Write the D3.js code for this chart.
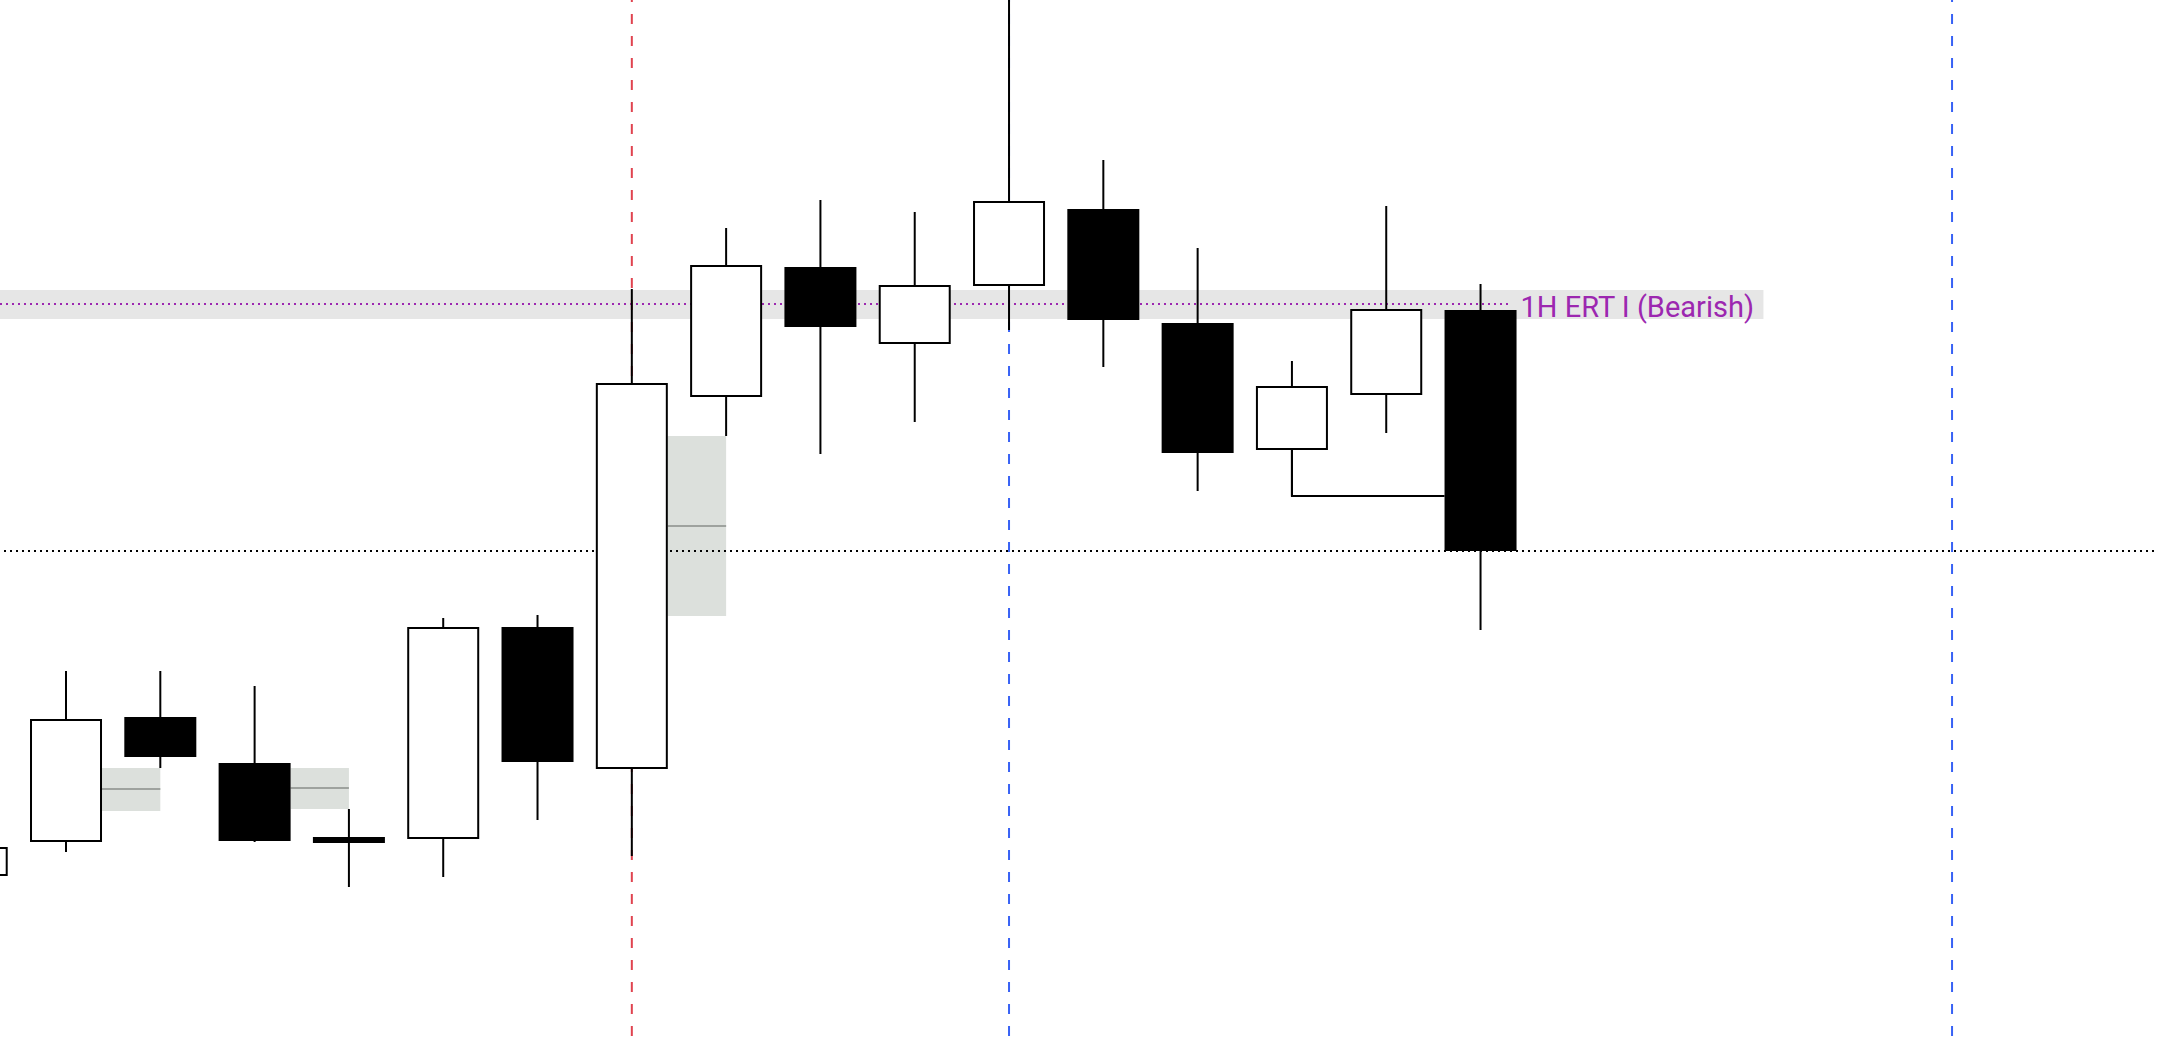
<!DOCTYPE html>
<html>
<head>
<meta charset="utf-8">
<script src="https://cdn.jsdelivr.net/npm/d3@7"></script>
<style>
  html, body { margin: 0; padding: 0; background: #ffffff; overflow: hidden; }
  svg { display: block; }
</style>
</head>
<body>
<script>
// ---- data (price units) ----
const candleIndex = [0, 1, 2, 3, 4, 5, 6, 7, 8, 9, 10, 11, 12, 13, 14, 15, 16];
const opens  = [42.5, 51, 82.25, 70.75, 52.25, 51.75, 104.75, 69.25, 162.25, 194.75, 175.5, 190, 209.25, 180.75, 149, 162.75, 184];
const highs  = [49.75, 93.75, 93.75, 90, 59.25, 107, 107.75, 189.25, 204.5, 211.5, 208.5, 270, 221.5, 199.5, 171.25, 210, 190.5];
const lows   = [42.5, 48.5, 69.5, 51, 39.75, 42.25, 56.5, 47.5, 152.5, 148, 156, 179, 169.75, 138.75, 137.5, 153.25, 104];
const closes = [49.75, 81.75, 72.25, 51.25, 50.75, 104.75, 71, 165.75, 195.25, 179.75, 190.25, 211.25, 181.5, 148.25, 165, 184.25, 123.75];

// gap boxes: start candle (right edge of body), end candle (centre), top, bottom, mid
const gapStart  = [1, 3, 7];
const gapEnd    = [2, 4, 8];
const gapTop    = [69.5, 69.5, 152.5];
const gapBottom = [58.75, 59.25, 107.5];
const gapMid    = [64.25, 64.5, 130];

// levels
const ertLevel = 185.5, ertBandTop = 189, ertBandBottom = 181.75;
const ertLabel = "1H ERT I (Bearish)";
const closeLevel = 123.75;
const swingLow = 137.5, swingFrom = 14, swingTo = 16;
const redLines = [7];
const blueLines = [11, 21];

// ---- layout ----
const W = 2158, H = 1046;
const x = d3.scaleLinear().domain([0.3, 23.184]).range([0, W]);
const y = d3.scaleLinear().domain([0, 261.5]).range([H, 0]);
const bodyW = 72;
const half = bodyW / 2;

const svg = d3.select("body").append("svg").attr("width", W).attr("height", H);

// ERT band
svg.append("rect")
  .attr("x", 0).attr("y", y(ertBandTop))
  .attr("width", x(19.0)).attr("height", y(ertBandBottom) - y(ertBandTop))
  .attr("fill", "#e6e6e6");

// gap boxes
const gaps = gapStart.map((s, i) => ({s, e: gapEnd[i], t: gapTop[i], b: gapBottom[i], m: gapMid[i]}));
svg.selectAll("rect.gap").data(gaps).enter().append("rect")
  .attr("class", "gap")
  .attr("x", d => x(d.s) + half)
  .attr("y", d => y(d.t))
  .attr("width", d => x(d.e) - x(d.s) - half)
  .attr("height", d => y(d.b) - y(d.t))
  .attr("fill", "#dce0dc");
svg.selectAll("line.gapmid").data(gaps).enter().append("line")
  .attr("x1", d => x(d.s) + half).attr("x2", d => x(d.e))
  .attr("y1", d => y(d.m)).attr("y2", d => y(d.m))
  .attr("stroke", "#9ea29e").attr("stroke-width", 2);

// purple dotted ERT line
svg.append("line")
  .attr("x1", 0).attr("x2", x(16.31))
  .attr("y1", y(ertLevel)).attr("y2", y(ertLevel))
  .attr("stroke", "#9c27b0").attr("stroke-width", 2)
  .attr("stroke-dasharray", "2,4");

// vertical dashed lines
svg.selectAll("line.red").data(redLines).enter().append("line")
  .attr("x1", d => x(d)).attr("x2", d => x(d))
  .attr("y1", -8).attr("y2", H)
  .attr("stroke", "#e0434f").attr("stroke-width", 2)
  .attr("stroke-dasharray", "10,12");
svg.selectAll("line.blue").data(blueLines).enter().append("line")
  .attr("x1", d => x(d)).attr("x2", d => x(d))
  .attr("y1", -8).attr("y2", H)
  .attr("stroke", "#3862f5").attr("stroke-width", 2)
  .attr("stroke-dasharray", "10,12");

// black dotted close level
svg.append("line")
  .attr("x1", 4).attr("x2", W)
  .attr("y1", y(closeLevel)).attr("y2", y(closeLevel))
  .attr("stroke", "#000").attr("stroke-width", 2)
  .attr("stroke-dasharray", "2,4");

// swing low bracket
svg.append("polyline")
  .attr("points", [[x(swingFrom), y(Math.min(opens[swingFrom], closes[swingFrom]))],
                   [x(swingFrom), y(swingLow)],
                   [x(swingTo) - half, y(swingLow)]].map(p => p.join(",")).join(" "))
  .attr("fill", "none").attr("stroke", "#000").attr("stroke-width", 2);

// candles
const candles = candleIndex.map((i, k) => ({i, o: opens[k], h: highs[k], l: lows[k], c: closes[k]}));
const g = svg.append("g");
g.selectAll("line.wick").data(candles).enter().append("line")
  .attr("x1", d => x(d.i)).attr("x2", d => x(d.i))
  .attr("y1", d => y(d.h)).attr("y2", d => y(d.l))
  .attr("stroke", "#000").attr("stroke-width", 2);
g.selectAll("rect.body").data(candles).enter().append("rect")
  .attr("x", d => x(d.i) - half + 1)
  .attr("y", d => y(Math.max(d.o, d.c)) + 1)
  .attr("width", bodyW - 2)
  .attr("height", d => Math.max(1, y(Math.min(d.o, d.c)) - y(Math.max(d.o, d.c)) - 2))
  .attr("fill", d => d.c >= d.o ? "#ffffff" : "#000000")
  .attr("stroke", "#000").attr("stroke-width", 2);

// label
svg.append("text")
  .attr("x", x(16) + 40).attr("y", y(ertLevel) + 5)
  .attr("dominant-baseline", "middle")
  .attr("font-family", "Roboto, 'Noto Sans', sans-serif")
  .attr("font-size", 29)
  .attr("fill", "#9c27b0")
  .text(ertLabel);
</script>
</body>
</html>
